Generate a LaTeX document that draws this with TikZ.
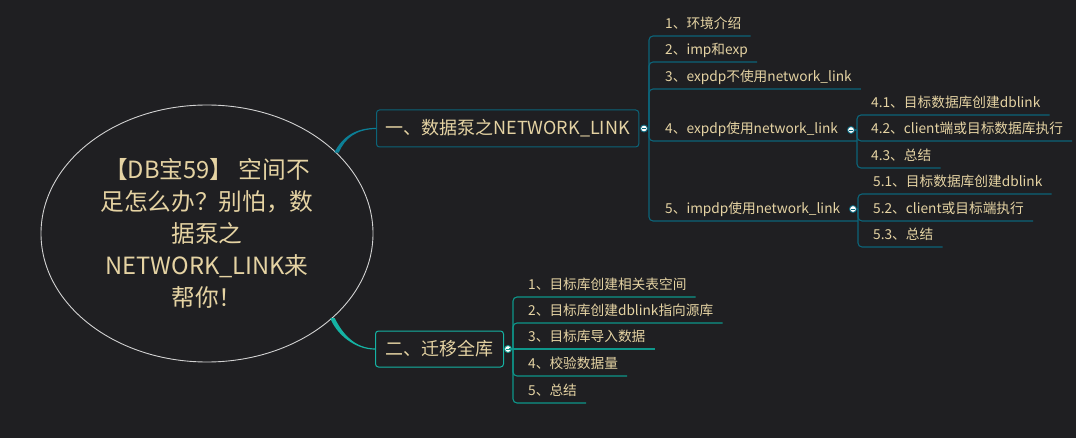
\documentclass[tikz,border=0pt]{standalone}
\usepackage{fontspec}
\setmainfont{Noto Sans CJK SC}
\usetikzlibrary{shapes.geometric,calc}
\definecolor{bg}{HTML}{1F1F22}
\definecolor{ink}{HTML}{E5D3A3}
\definecolor{rim}{HTML}{D2D2D2}
\definecolor{blueline}{HTML}{0C6479}
\definecolor{bluecurve}{HTML}{0C7F96}
\definecolor{tealline}{HTML}{0E968A}
\definecolor{tealcurve}{HTML}{15B3A4}

\begin{document}
\begin{tikzpicture}[x=1pt,y=-1pt,
  topic/.style={draw, rounded corners=3pt, line width=1pt, text=ink, font=\fontsize{18}{20}\selectfont, inner xsep=9pt, anchor=west},
  leaf/.style={text=ink, font=\fontsize{13.7}{16}\selectfont, inner sep=0pt, text height=10pt, text depth=6.9pt, anchor=south west},
  knob/.style={circle, fill=white, draw, line width=0.9pt, minimum size=7pt, inner sep=0pt},
  link/.style={line width=1.1pt, rounded corners=4pt}]
  \useasboundingbox (0,0) rectangle (1076,438);
  \fill[bg] (0,0) rectangle (1076,438);

  % central topic
  \node[ellipse, draw=rim, line width=0.9pt, minimum width=332pt, minimum height=257pt, inner sep=0pt,
        text=ink, align=center, font=\fontsize{23.7}{32}\selectfont] (root) at (207,233.5)
        {【DB宝59】 空间不\\足怎么办？别怕，数\\据泵之\\NETWORK\_LINK来\\帮你！};

  % main topics
  \node[topic, draw=blueline, minimum width=262pt, minimum height=37pt] (n1) at (376,128.5) {一、数据泵之NETWORK\_LINK};
  \node[topic, draw=tealcurve, minimum width=128pt, minimum height=36pt] (n2) at (375,349) {二、迁移全库};

  \fill[bluecurve] ($(root.32)+(-2.2,0)$) .. controls +(8,-16) and +(-20,0) .. ($(n1.west)+(0,-0.6)$)
    -- ($(n1.west)+(0,0.6)$) .. controls +(-20,0) and +(6,-14) .. ($(root.32)+(2.2,0)$) -- cycle;
  \fill[tealcurve] ($(root.-34)+(-2.2,0)$) .. controls +(6,16) and +(-20,0) .. ($(n2.west)+(0,0.6)$)
    -- ($(n2.west)+(0,-0.6)$) .. controls +(-20,0) and +(8,16) .. ($(root.-34)+(2.2,0)$) -- cycle;

  % knobs
  \node[knob, draw=blueline] (k1) at (644,128.5) {};
  \node[knob, draw=blueline] (k4) at (851,130) {};
  \node[knob, draw=blueline] (k5) at (853,209) {};
  \node[knob, draw=tealline] (k2) at (508,349) {};
  \foreach \k/\c in {k1/blueline,k4/blueline,k5/blueline,k2/tealline}
    \draw[\c, line width=0.8pt] ([xshift=-1.6pt]\k.center) -- ([xshift=1.6pt]\k.center);

  \coordinate (s1) at (649,128.5);
  \coordinate (t4) at (857,130);
  \coordinate (t5) at (858,209);
  \coordinate (s2) at (513,349);

  % first branch
  \node[leaf] (a1) at (665,36) {1、环境介绍};
  \node[leaf] (a2) at (665,62) {2、imp和exp};
  \node[leaf] (a3) at (665,89) {3、expdp不使用network\_link};
  \node[leaf] (a4) at (665,141) {4、expdp使用network\_link};
  \node[leaf] (a5) at (665,221) {5、impdp使用network\_link};

  \node[leaf] (b1) at (871,115) {4.1、目标数据库创建dblink};
  \node[leaf] (b2) at (871,141) {4.2、client端或目标数据库执行};
  \node[leaf] (b3) at (871,168) {4.3、总结};

  \node[leaf] (d1) at (873,194) {5.1、目标数据库创建dblink};
  \node[leaf] (d2) at (873,221) {5.2、client或目标端执行};
  \node[leaf] (d3) at (873,247) {5.3、总结};

  \draw[link, blueline] (k1.east) -- (s1);
  \foreach \i in {1,2,3}
    \draw[link, blueline] (s1) |- ($(a\i.south east)+(9,0)$);
  \draw[link, blueline] (s1) |- (t4 |- a4.south);
  \draw[link, blueline] (s1) |- (t5 |- a5.south);

  \draw[link, blueline] (k4.east) -- (t4);
  \foreach \i in {1,2,3}
    \draw[link, blueline] (t4) |- ($(b\i.south east)+(9,0)$);
  \draw[link, blueline] (k5.east) -- (t5);
  \foreach \i in {1,2,3}
    \draw[link, blueline] (t5) |- ($(d\i.south east)+(9,0)$);

  % second branch
  \node[leaf] (e1) at (528,297) {1、目标库创建相关表空间};
  \node[leaf] (e2) at (528,323) {2、目标库创建dblink指向源库};
  \node[leaf] (e3) at (528,349) {3、目标库导入数据};
  \node[leaf] (e4) at (528,376) {4、校验数据量};
  \node[leaf] (e5) at (528,403) {5、总结};

  \draw[link, tealline] (k2.east) -- (s2) -- ($(e3.south east)+(9,0)$);
  \foreach \i in {1,2,4,5}
    \draw[link, tealline] (s2) |- ($(e\i.south east)+(9,0)$);
\end{tikzpicture}
\end{document}
